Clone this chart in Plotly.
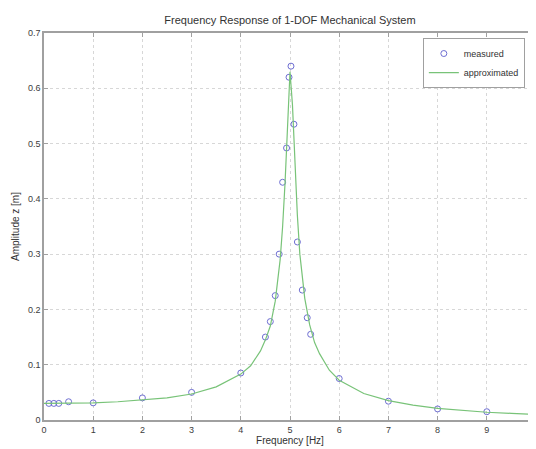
import plotly.graph_objects as go

# measured points (frequency Hz, amplitude m)
meas_f = [0.1, 0.2, 0.3, 0.5, 1, 2, 3, 4, 4.5, 4.6, 4.7, 4.78, 4.85, 4.93, 4.98, 5.02,
          5.08, 5.15, 5.25, 5.35, 5.42, 6, 7, 8, 9, 10]
meas_z = [0.030, 0.030, 0.030, 0.033, 0.031, 0.040, 0.050, 0.085, 0.150, 0.178, 0.225,
          0.300, 0.430, 0.492, 0.620, 0.640, 0.535, 0.322, 0.235, 0.185, 0.155, 0.075,
          0.034, 0.020, 0.015, 0.002]

# approximated curve
appr_f = [0, 0.5, 1, 1.5, 2, 2.5, 3, 3.5, 4, 4.2, 4.4, 4.5, 4.6, 4.7, 4.8, 4.85, 4.9,
          4.95, 5.0, 5.05, 5.1, 5.15, 5.2, 5.3, 5.4, 5.5, 5.6, 5.8, 6, 6.5, 7, 7.5, 8,
          8.5, 9, 9.5, 10]
appr_z = [0.030, 0.030, 0.031, 0.033, 0.036, 0.040, 0.047, 0.060, 0.083, 0.098, 0.125,
          0.145, 0.170, 0.215, 0.290, 0.350, 0.430, 0.540, 0.630, 0.570, 0.460, 0.370,
          0.300, 0.220, 0.172, 0.140, 0.120, 0.090, 0.072, 0.048, 0.035, 0.027, 0.021,
          0.017, 0.014, 0.012, 0.010]

x_ticks = [0, 1, 2, 3, 4, 5, 6, 7, 8, 9, 10]
y_ticks = [0, 0.1, 0.2, 0.3, 0.4, 0.5, 0.6, 0.7]
y_labels = ["0", "0.1", "0.2", "0.3", "0.4", "0.5", "0.6", "0.7"]

FONT = "Liberation Sans, Arial"
TXT = "rgb(60,60,60)"

W, H = 528, 441  # page body has an 8px margin

fig = go.Figure()
fig.add_trace(go.Scatter(x=meas_f, y=meas_z, mode="markers", name="measured",
                         cliponaxis=False,
                         marker=dict(symbol="circle-open", size=6,
                                     color="rgb(110,110,210)", line=dict(width=1))))
fig.add_trace(go.Scatter(x=appr_f, y=appr_z, mode="lines", name="approximated",
                         line=dict(color="rgb(120,195,120)", width=1.2)))

axis_common = dict(showline=True, linecolor="rgb(160,160,160)", linewidth=1.5,
                   mirror="ticks", ticks="inside", ticklen=4, tickcolor="rgb(160,160,160)",
                   showgrid=True, gridcolor="rgb(215,215,215)", griddash="dot",
                   gridwidth=1, zeroline=False, automargin=False,
                   tickfont=dict(family=FONT, size=9, color=TXT))

fig.update_layout(
    width=W, height=H,
    margin=dict(l=36, r=0, t=25, b=29),
    paper_bgcolor="white", plot_bgcolor="white",
    title=dict(text="Frequency Response of 1-DOF Mechanical System",
               x=0.5, xanchor="center", xref="paper", y=1 - 12 / H, yanchor="middle",
               font=dict(family=FONT, size=11, color="rgb(50,50,50)")),
    xaxis=dict(range=[0, 10], tickvals=x_ticks, ticktext=[str(t) for t in x_ticks],
               title=dict(text="Frequency [Hz]", standoff=1,
                          font=dict(family=FONT, size=10, color="rgb(50,50,50)")),
               **axis_common),
    yaxis=dict(range=[0, 0.7], tickvals=y_ticks, ticktext=y_labels,
               title=dict(text="Amplitude z [m]", standoff=6,
                          font=dict(family=FONT, size=10, color="rgb(50,50,50)")),
               **axis_common),
    legend=dict(x=0.77, y=0.987, xanchor="left", yanchor="top",
                bgcolor="white", bordercolor="rgb(160,160,160)", borderwidth=1,
                font=dict(family=FONT, size=9, color="rgb(50,50,50)"),
                tracegroupgap=0, itemwidth=30),
    showlegend=True,
)

fig.write_html("out.html")
